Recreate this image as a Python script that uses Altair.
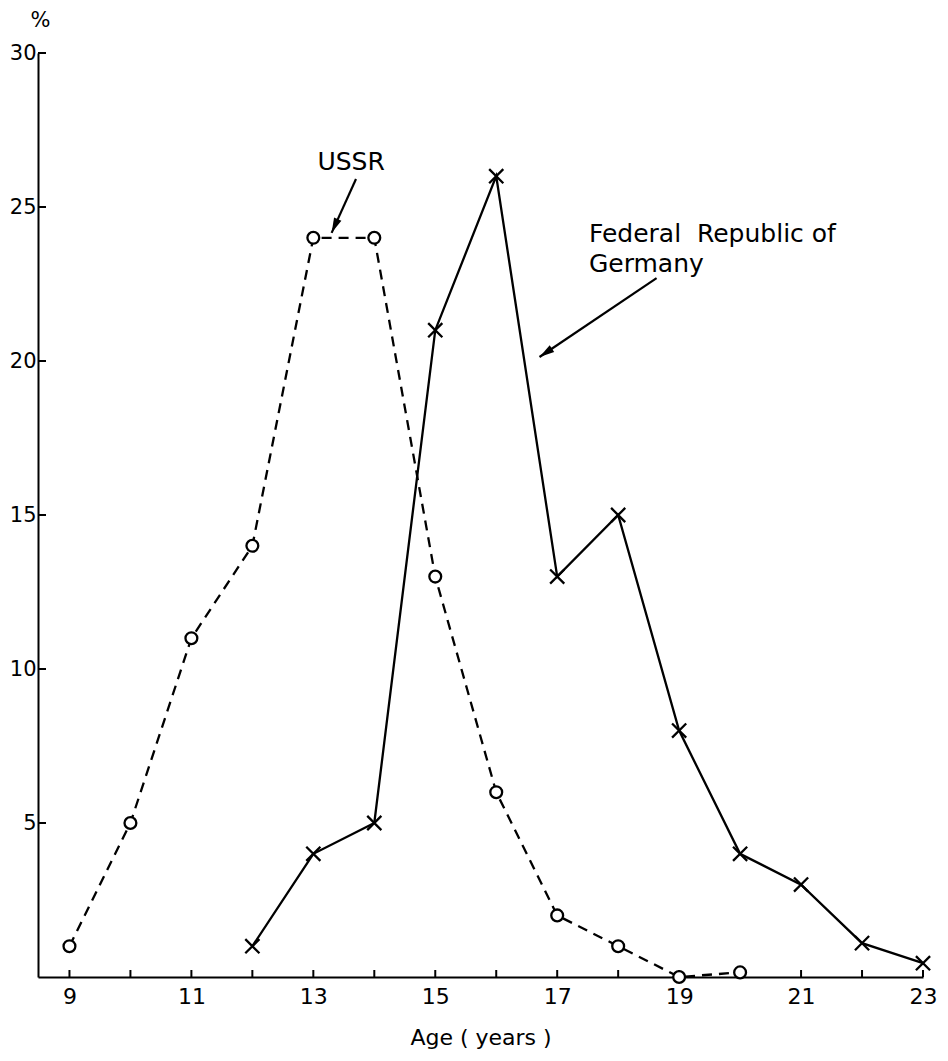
import altair as alt
import pandas as pd

# ---- data ----
ussr_age = [9, 10, 11, 12, 13, 14, 15, 16, 17, 18, 19, 20]
ussr_pct = [1, 5, 11, 14, 24, 24, 13, 6, 2, 1, 0, 0.15]
frg_age = [12, 13, 14, 15, 16, 17, 18, 19, 20, 21, 22, 23]
frg_pct = [1, 4, 5, 21, 26, 13, 15, 8, 4, 3, 1.1, 0.45]
x_labels = [9, 11, 13, 15, 17, 19, 21, 23]
x_ticks = list(range(9, 24))
y_labels = [5, 10, 15, 20, 25, 30]

# annotations (data coordinates)
ann_text = ["USSR", "Federal\u00a0 Republic of", "Germany"]
ann_x = [13.62, 17.52, 17.52]
ann_y = [26.2, 23.86, 22.9]
arrow_x = [13.70, 18.63]
arrow_y = [25.91, 22.69]
arrow_x2 = [13.30, 16.71]
arrow_y2 = [24.16, 20.13]
arrow_angle = [204, 236]

XMIN, XMAX = 8.484, 23
W, H = 885, 924
FONT = "DejaVu Sans"

ussr = pd.DataFrame({"age": ussr_age, "pct": ussr_pct})
frg = pd.DataFrame({"age": frg_age, "pct": frg_pct})
xt = pd.DataFrame({"age": x_ticks})
yt = pd.DataFrame({"pct": y_labels})
arrows = pd.DataFrame({"x": arrow_x, "y": arrow_y, "x2": arrow_x2, "y2": arrow_y2, "ang": arrow_angle})
lab_ussr = pd.DataFrame({"t": ann_text[:1], "x": ann_x[:1], "y": ann_y[:1]})
lab_frg = pd.DataFrame({"t": ann_text[1:], "x": ann_x[1:], "y": ann_y[1:]})

xs = alt.Scale(domain=[XMIN, XMAX], nice=False, zero=False)
ys = alt.Scale(domain=[0, 30], nice=False, zero=False)

xaxis = alt.Axis(values=x_labels, title="Age ( years )", labelPadding=9, titlePadding=20,
                 format="d", labelFlush=False, labelFontSize=22)
yaxis = alt.Axis(values=y_labels, title="%", titleAngle=0, titleX=2, titleY=-33,
                 titleAlign="center", titleBaseline="middle", titleFontSize=21,
                 labelPadding=2, format="d", labelFlush=False, labelFontSize=21)


def X(f):
    return alt.X(f, scale=xs, axis=xaxis)


def Y(f):
    return alt.Y(f, scale=ys, axis=yaxis)


ussr_line = alt.Chart(ussr).mark_line(color="black", strokeWidth=2.3, strokeDash=[10, 7]).encode(
    x=X("age:Q"), y=Y("pct:Q"))
frg_line = alt.Chart(frg).mark_line(color="black", strokeWidth=2.3).encode(
    x=X("age:Q"), y=Y("pct:Q"))
ussr_pts = alt.Chart(ussr).mark_point(shape="circle", filled=True, fill="white", stroke="black",
                                      strokeWidth=2.3, size=140, opacity=1).encode(
    x=X("age:Q"), y=Y("pct:Q"))
frg_pts = alt.Chart(frg).mark_point(shape="M-1,-1L1,1M-1,1L1,-1", filled=False, stroke="black",
                                    strokeWidth=2.3, size=200, opacity=1).encode(
    x=X("age:Q"), y=Y("pct:Q"))
xtick = alt.Chart(xt).mark_rule(color="black", strokeWidth=2).encode(
    x=X("age:Q"), y=alt.value(H), y2=alt.value(H - 7))
ytick = alt.Chart(yt).mark_rule(color="black", strokeWidth=2).encode(
    y=Y("pct:Q"), x=alt.value(0), x2=alt.value(8))
arrow_lines = alt.Chart(arrows).mark_rule(color="black", strokeWidth=2.2).encode(
    x=X("x:Q"), x2="x2:Q", y=Y("y:Q"), y2="y2:Q")
arrow_heads = alt.Chart(arrows).mark_point(shape="M0,0L-0.4,1.5L0.4,1.5Z", filled=True,
                                           color="black", size=400, opacity=1).encode(
    x=X("x2:Q"), y=Y("y2:Q"), angle=alt.Angle("ang:Q", scale=None))
txt_ussr = alt.Chart(lab_ussr).mark_text(font=FONT, fontSize=25, align="center",
                                         baseline="alphabetic", color="black").encode(
    x=X("x:Q"), y=Y("y:Q"), text="t:N")
txt_frg = alt.Chart(lab_frg).mark_text(font=FONT, fontSize=25, align="left",
                                       baseline="alphabetic", color="black").encode(
    x=X("x:Q"), y=Y("y:Q"), text="t:N")

chart = alt.layer(
    ussr_line, frg_line, xtick, ytick, arrow_lines, arrow_heads, ussr_pts, frg_pts, txt_ussr, txt_frg
).properties(
    width=W, height=H, autosize="none",
    padding={"left": 30, "top": 45, "right": 15, "bottom": 76},
    background="white",
).configure_view(stroke=None).configure_axis(
    domainColor="black", domainWidth=2, labelFont=FONT, labelColor="black",
    titleFont=FONT, titleFontSize=22, titleFontWeight="normal", titleColor="black",
    ticks=False, grid=False,
)

chart.save("out.html", embed_options={"renderer": "svg", "actions": False})
